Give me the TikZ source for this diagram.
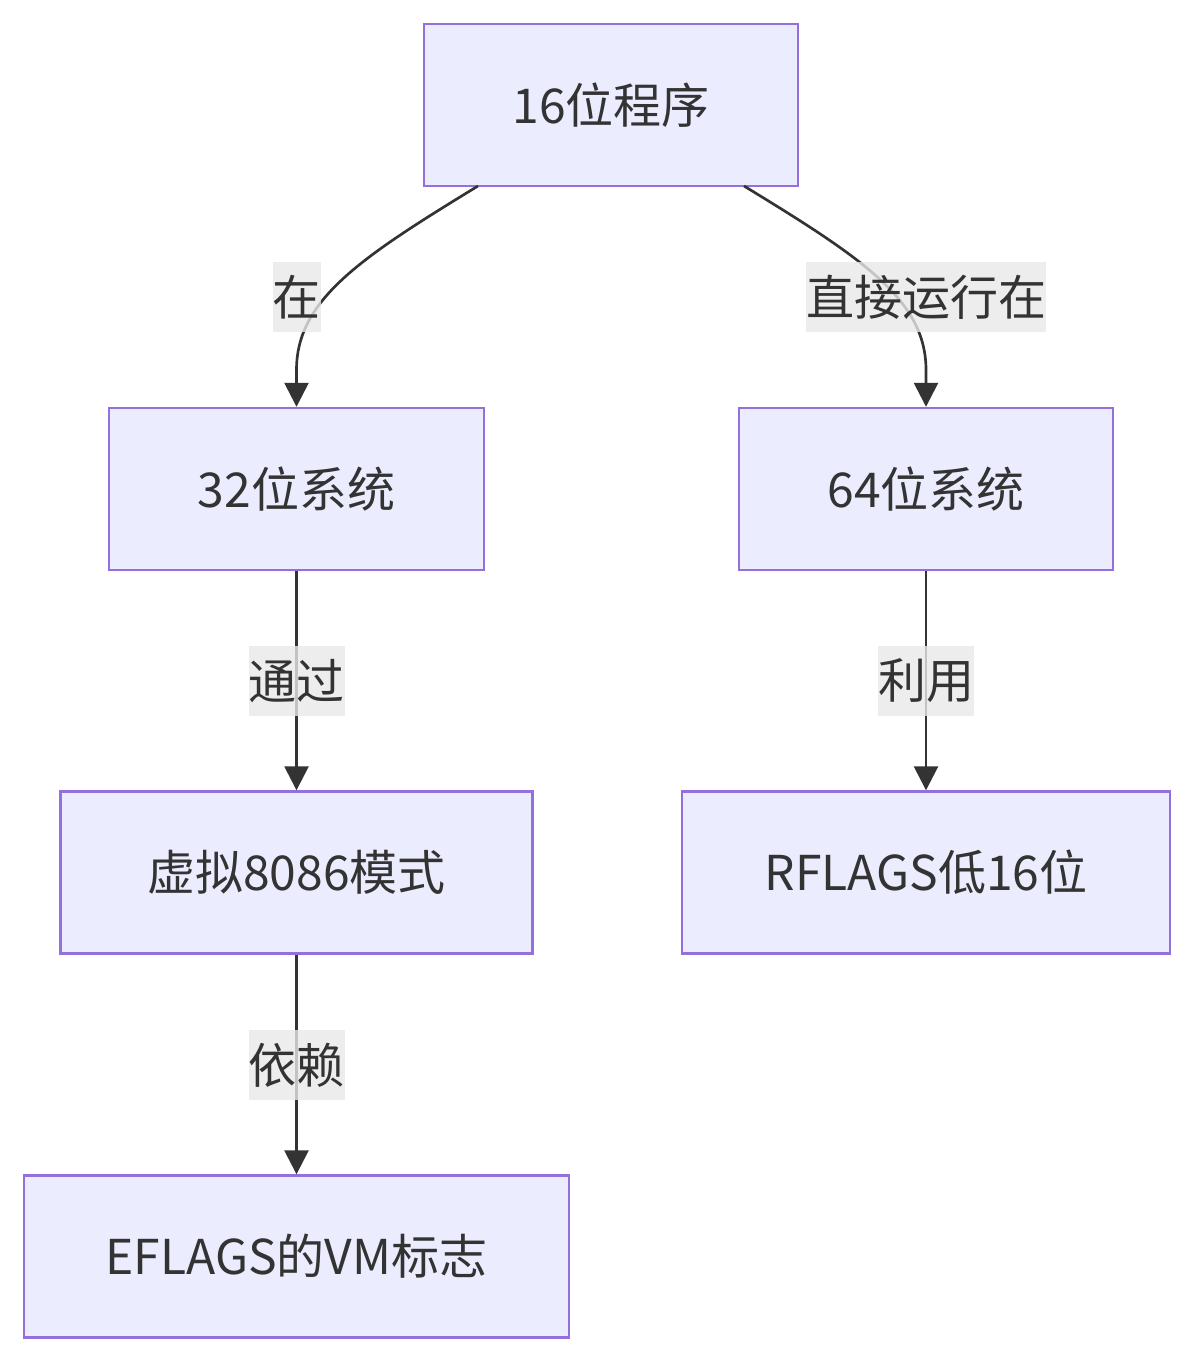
\documentclass[tikz,border=0pt]{standalone}
\usepackage{fontspec}
\setmainfont{Noto Sans CJK SC}
\usetikzlibrary{arrows.meta}
\definecolor{boxfill}{HTML}{ECECFF}
\definecolor{boxline}{HTML}{9370DB}
\definecolor{ink}{HTML}{333333}
\definecolor{labelbg}{HTML}{E8E8E8}
\tikzset{
  box/.style={draw=boxline, fill=boxfill, line width=1.8pt, text=ink,
    font=\fontsize{36pt}{40pt}\selectfont, minimum height=121.5pt, inner sep=0pt},
  edgelabel/.style={fill=labelbg, fill opacity=0.8, text opacity=1, text=ink,
    font=\fontsize{36pt}{40pt}\selectfont, minimum height=52.5pt, inner xsep=0pt, inner ysep=0pt},
  link/.style={draw=ink, line width=2pt, -{Triangle[length=18pt,width=18pt]}},
}
\begin{document}
\begin{tikzpicture}[x=0.75pt, y=-0.75pt]
\useasboundingbox (0,0) rectangle (1194,1362);
% nodes
\node[box, minimum width=280.5pt] (prog) at (611,105) {16位程序};
\node[box, minimum width=281.25pt] (sys32) at (296.5,489) {32位系统};
\node[box, minimum width=280.5pt] (sys64) at (926,489) {64位系统};
\node[box, minimum width=354pt] (v86) at (296.5,872.5) {虚拟8086模式};
\node[box, minimum width=366pt] (rflags) at (926,872.5) {RFLAGS低16位};
\node[box, minimum width=408.75pt] (eflags) at (296.5,1256.5) {EFLAGS的VM标志};
% curved links from the top box
\coordinate (p1) at (478,186);
\coordinate (p2) at (744,186);
\draw[link] (p1) .. controls (360,258) and (296.5,300) .. (296.5,370) -- (sys32.north);
\draw[link] (p2) .. controls (862,258) and (926,300) .. (926,370) -- (sys64.north);
% straight links
\draw[link] (sys32.south) -- (v86.north);
\draw[link] (sys64.south) -- (rflags.north);
\draw[link] (v86.south) -- (eflags.north);
% link labels
\node[edgelabel] (l1) at (296.5,297) {在};
\node[edgelabel] (l2) at (926,297) {直接运行在};
\node[edgelabel] (l3) at (296.5,681) {通过};
\node[edgelabel] (l4) at (926,681) {利用};
\node[edgelabel] (l5) at (296.5,1065) {依赖};
\end{tikzpicture}
\end{document}
